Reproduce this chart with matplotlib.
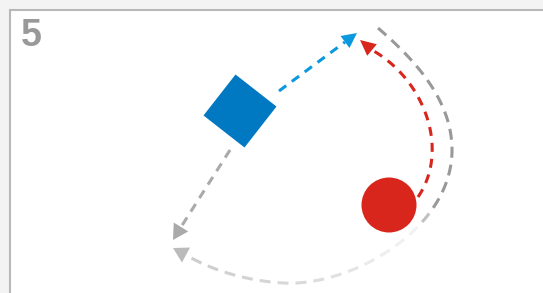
import numpy as np
import matplotlib
matplotlib.use('Agg')
import matplotlib.pyplot as plt
from matplotlib.patches import Polygon, Rectangle, Circle
from matplotlib.collections import LineCollection
from matplotlib.bezier import BezierSegment

# all positions are in pixels of the 543x293 picture (y grows downwards)
panel_label = '5'

square_center = (240, 111)
square_side = 52
square_angle = 38
circle_center = (389, 205)
circle_radius = 27.5

# dashed paths: lists of bezier control points, followed by the arrow tip
blue_path = [[(279, 91), (345, 42)]]
blue_tip = (357, 33)
red_path = [[(418, 197), (450, 150), (425, 80), (372, 50)]]
red_tip = (360, 40)
gray_short_path = [[(230, 150), (181, 227)]]
gray_short_tip = (173, 240)
gray_long_path = [
    [(378, 28), (415, 60), (452, 100), (452, 150)],
    [(452, 150), (452, 230), (350, 287), (283, 283)],
    [(283, 283), (250, 281), (215, 272), (186, 255)],
]
gray_long_tip = (173, 248)

# grey level along the long path (fraction of length -> 1 = white)
fade_stops = [0.0, 0.43, 0.49, 0.58, 0.70, 0.85, 1.0]
fade_levels = [0.60, 0.60, 0.95, 0.93, 0.87, 0.83, 0.80]

BLUE_DARK = '#0079c2'
BLUE_LIGHT = '#0a98de'
RED = '#d9261c'
GRAY = '#999999'


def sample_path(segments, n=200):
    """points along a chain of bezier segments"""
    pts = []
    for ctrl in segments:
        seg = BezierSegment(np.array(ctrl, float))
        p = seg(np.linspace(0, 1, n))
        pts.append(p if not pts else p[1:])
    return np.vstack(pts)


def draw_dashes(ax, segments, color_at, dash=10, gap=7, lw=2.2):
    """dash a path by hand so that every dash may get its own colour"""
    pts = sample_path(segments)
    d = np.r_[0, np.cumsum(np.hypot(*np.diff(pts, axis=0).T))]
    total = d[-1]
    lines, cols = [], []
    s = 0.0
    while s < total:
        e = min(s + dash, total)
        ss = np.linspace(s, e, 10)
        lines.append(np.column_stack([np.interp(ss, d, pts[:, 0]),
                                      np.interp(ss, d, pts[:, 1])]))
        cols.append(color_at((s + e) / 2 / total))
        s += dash + gap
    ax.add_collection(LineCollection(lines, colors=cols, linewidths=lw,
                                     capstyle='butt'))
    return pts[-1]


def arrow_head(ax, tip, base, color, width=16):
    """filled triangle from the end of a path to its tip"""
    tip = np.array(tip, float)
    base = np.array(base, float)
    u = (tip - base) / np.hypot(*(tip - base))
    n = np.array([-u[1], u[0]])
    tri = [tip, base + n * width / 2, base - n * width / 2]
    ax.add_patch(Polygon(tri, closed=True, facecolor=color, lw=0))


fig = plt.figure(figsize=(5.43, 2.93), dpi=100, facecolor='#f3f3f3')
ax = fig.add_axes([0, 0, 1, 1])
ax.set_xlim(0, 543)
ax.set_ylim(293, 0)
ax.axis('off')

# panel
ax.add_patch(Rectangle((10, 10), 600, 400, facecolor='white',
                       edgecolor='#b8b8b8', lw=1.5))
ax.text(21, 46, panel_label, fontsize=27, fontweight='bold', color=GRAY,
        family=['Liberation Sans', 'DejaVu Sans'], ha='left', va='baseline')

# shapes
half = square_side / 2
ax.add_patch(Rectangle((square_center[0] - half, square_center[1] - half),
                       square_side, square_side, angle=square_angle,
                       rotation_point='center', facecolor=BLUE_DARK, lw=0))
ax.add_patch(Circle(circle_center, circle_radius, facecolor=RED, lw=0))

# arrows
end = draw_dashes(ax, blue_path, lambda f: BLUE_LIGHT, dash=9, gap=7)
arrow_head(ax, blue_tip, end, BLUE_LIGHT, width=15)

end = draw_dashes(ax, red_path, lambda f: RED, dash=9, gap=7)
arrow_head(ax, red_tip, end, RED, width=15)

end = draw_dashes(ax, gray_short_path, lambda f: '#aaaaaa', dash=9, gap=7)
arrow_head(ax, gray_short_tip, end, '#aaaaaa', width=17)


def fade(f):
    g = np.interp(f, fade_stops, fade_levels)
    return (g, g, g)


end = draw_dashes(ax, gray_long_path, fade, dash=11, gap=7)
arrow_head(ax, gray_long_tip, end, '#bbbbbb', width=17)

fig.savefig('out.png', dpi=100, facecolor=fig.get_facecolor())
